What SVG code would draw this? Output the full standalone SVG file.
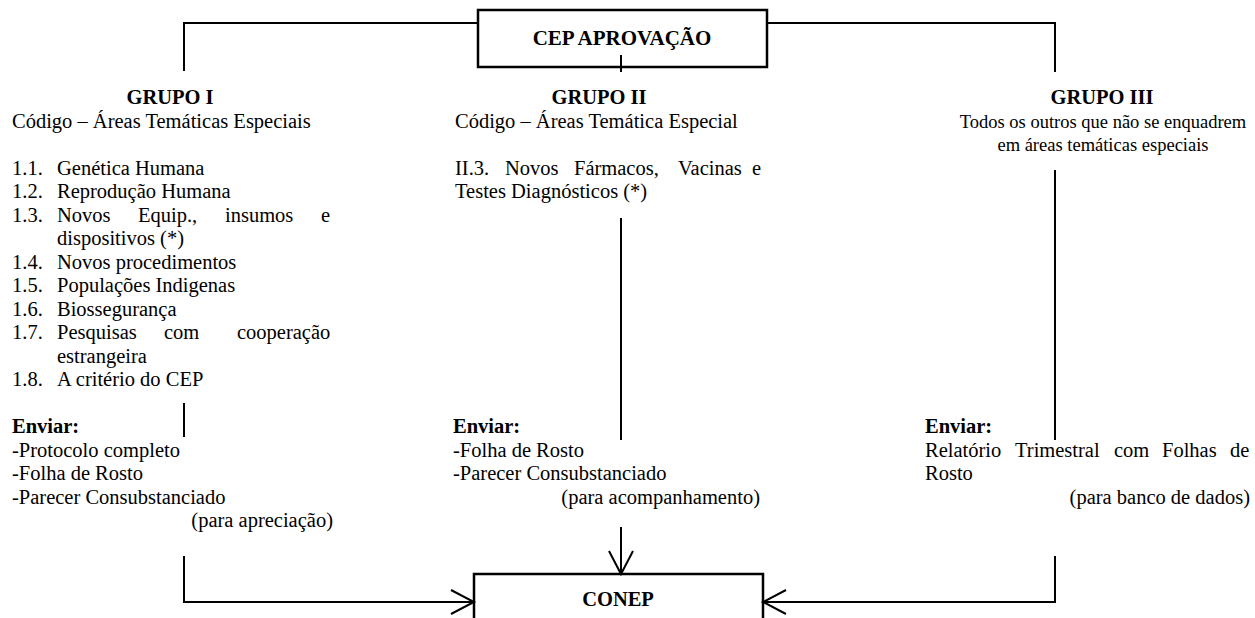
<svg xmlns="http://www.w3.org/2000/svg" width="1255" height="618" viewBox="0 0 1255 618">
<defs>
<style>
.t{font-family:"Liberation Serif","Times New Roman",serif;font-size:20.5px;fill:#000}
.b{font-weight:bold}
.m{text-anchor:middle}
.e{text-anchor:end}
.s{font-size:18.5px}
.ln{stroke:#000;stroke-width:2;fill:none}
.box{fill:#fff;stroke:#000;stroke-width:2.5}
</style>
<marker id="arr" markerUnits="userSpaceOnUse" markerWidth="28" markerHeight="28" viewBox="0 0 26 28" refX="24" refY="14" orient="auto">
<path d="M1,2 L24,14 L1,26" fill="none" stroke="#000" stroke-width="2"/>
</marker>
</defs>
<rect width="1255" height="618" fill="#fff"/>

<g id="cep">
<rect class="box" x="478" y="10" width="289" height="57"/>
<text class="t b m" x="622" y="45" style="font-size:21px">CEP APROVAÇÃO</text>
</g>

<g id="grupo1">
<text class="t b m" x="170" y="104">GRUPO I</text>
<text class="t" x="12" y="127.5">Código – Áreas Temáticas Especiais</text>
<text class="t" x="12" y="174.5">1.1.</text><text class="t" x="57" y="174.5">Genética Humana</text>
<text class="t" x="12" y="198">1.2.</text><text class="t" x="57" y="198">Reprodução Humana</text>
<text class="t" x="12" y="221.5">1.3.</text><text class="t" y="221.5"><tspan x="57">Novos</tspan><tspan x="138">Equip.,</tspan><tspan x="225">insumos</tspan><tspan x="321">e</tspan></text>
<text class="t" x="57" y="245">dispositivos (*)</text>
<text class="t" x="12" y="268.5">1.4.</text><text class="t" x="57" y="268.5">Novos procedimentos</text>
<text class="t" x="12" y="292">1.5.</text><text class="t" x="57" y="292">Populações Indigenas</text>
<text class="t" x="12" y="315.5">1.6.</text><text class="t" x="57" y="315.5">Biossegurança</text>
<text class="t" x="12" y="339">1.7.</text><text class="t" y="339"><tspan x="57">Pesquisas</tspan><tspan x="164">com</tspan><tspan x="237">cooperação</tspan></text>
<text class="t" x="57" y="362.5">estrangeira</text>
<text class="t" x="12" y="386">1.8.</text><text class="t" x="57" y="386">A critério do CEP</text>
<text class="t b" x="12" y="433">Enviar:</text>
<text class="t" x="12" y="456.5">-Protocolo completo</text>
<text class="t" x="12" y="480">-Folha de Rosto</text>
<text class="t" x="12" y="503.5">-Parecer Consubstanciado</text>
<text class="t e" x="333" y="527">(para apreciação)</text>
</g>

<g id="grupo2">
<text class="t b m" x="599" y="104">GRUPO II</text>
<text class="t" x="455" y="127.5">Código – Áreas Temática Especial</text>
<text class="t" y="174.5"><tspan x="455">II.3.</tspan><tspan x="505">Novos</tspan><tspan x="574">Fármacos,</tspan><tspan x="678">Vacinas</tspan><tspan x="752">e</tspan></text>
<text class="t" x="455" y="198">Testes Diagnósticos (*)</text>
<text class="t b" x="453" y="433">Enviar:</text>
<text class="t" x="453" y="456.5">-Folha de Rosto</text>
<text class="t" x="453" y="480">-Parecer Consubstanciado</text>
<text class="t e" x="760" y="503.5">(para acompanhamento)</text>
</g>

<g id="grupo3">
<text class="t b m" x="1102" y="104">GRUPO III</text>
<text class="t s m" x="1103" y="127.5">Todos os outros que não se enquadrem</text>
<text class="t s m" x="1103" y="151">em áreas temáticas especiais</text>
<text class="t b" x="925" y="433">Enviar:</text>
<text class="t" y="456.5"><tspan x="925">Relatório</tspan><tspan x="1015">Trimestral</tspan><tspan x="1114">com</tspan><tspan x="1162">Folhas</tspan><tspan x="1230">de</tspan></text>
<text class="t" x="925" y="480">Rosto</text>
<text class="t e" x="1250" y="503.5">(para banco de dados)</text>
</g>

<g id="conep">
<rect class="box" x="474" y="574" width="289" height="60"/>
<text class="t b m" x="618" y="606">CONEP</text>
</g>

<g id="connectors">
<path class="ln" d="M184,71 V23 H478"/>
<path class="ln" d="M767,23 H1055 V72"/>
<path class="ln" d="M621,55 V72"/>
<path class="ln" d="M184,403 V437"/>
<path class="ln" d="M621,218 V440"/>
<path class="ln" d="M1055,170 V440"/>
<path class="ln" d="M184,556 V602 H474" marker-end="url(#arr)"/>
<path class="ln" d="M1055,556 V602 H763" marker-end="url(#arr)"/>
<path class="ln" d="M621,527 V574" marker-end="url(#arr)"/>
</g>
</svg>
